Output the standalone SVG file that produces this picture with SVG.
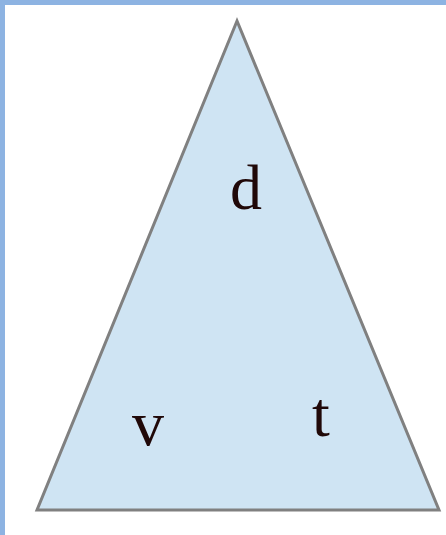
<svg xmlns="http://www.w3.org/2000/svg" width="446" height="535" viewBox="0 0 446 535">
<style>
.lbl{font-family:"Liberation Serif","Times New Roman",serif;font-size:64px;fill:#200808;text-anchor:middle}
</style>
<rect x="0" y="0" width="446" height="535" fill="#ffffff"/>
<rect x="0" y="0" width="446" height="5" fill="#8DB3E2"/>
<rect x="0" y="0" width="5" height="535" fill="#8DB3E2"/>
<g id="triangle">
<polygon points="237,21 37,510 439,510" fill="#CFE4F3" stroke="#808080" stroke-width="3" stroke-linejoin="miter"/>
</g>
<g id="label-d"><text class="lbl" x="246" y="209">d</text></g>
<g id="label-v"><text class="lbl" x="148" y="445">v</text></g>
<g id="label-t"><text class="lbl" x="321" y="436">t</text></g>
</svg>
